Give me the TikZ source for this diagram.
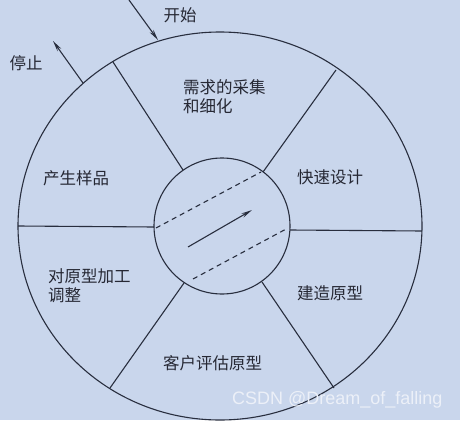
\documentclass[tikz,border=0pt]{standalone}
\usepackage{fontspec}
\setmainfont{Liberation Sans}
\newfontfamily\cjk{Noto Sans CJK SC}
\usetikzlibrary{arrows.meta}
\definecolor{bg}{RGB}{201,214,236}
\definecolor{ink}{RGB}{40,46,62}
\definecolor{txt}{RGB}{38,40,52}
\definecolor{wmc}{RGB}{236,240,248}
\begin{document}
\begin{tikzpicture}[x=1pt,y=-1pt,
  ln/.style={draw=ink,line width=1.1pt},
  lbl/.style={text=txt,font=\cjk\fontsize{16.5}{19}\selectfont,inner sep=0pt,align=left},
  arr/.style={ln,-{Stealth[length=11pt,width=4.5pt]}},
  wm/.style={text=wmc,font=\fontsize{18}{20}\selectfont,inner sep=0pt}]
\fill[bg] (0,0) rectangle (460,420);
\useasboundingbox (0,0) rectangle (460,420);
% centres
\coordinate (oc) at (220,226);
\coordinate (ic) at (222,226);
% outer ellipse and inner circle
\draw[ln] (oc) ellipse [x radius=202pt, y radius=194pt];
\draw[ln] (ic) circle [radius=68pt];
% junction points
\coordinate (iL) at (154,227);  \coordinate (oL) at (18,226);
\coordinate (iR) at (290,230);  \coordinate (oR) at (422,231);
\coordinate (iUL) at (183,170); \coordinate (oUL) at (113,62);
\coordinate (iUR) at (263,172); \coordinate (oUR) at (336,70);
\coordinate (iLL) at (184,283); \coordinate (oLL) at (110,388);
\coordinate (iLR) at (262,282); \coordinate (oLR) at (334,388);
\draw[ln] (iL) -- (oL);
\draw[ln] (iR) -- (oR);
\draw[ln] (iUL) -- (oUL);
\draw[ln] (iUR) -- (oUR);
\draw[ln] (iLL) -- (oLL);
\draw[ln] (iLR) -- (oLR);
% dashed lines and arrow in the hub
\coordinate (d1a) at (156,228); \coordinate (d1b) at (261,172);
\coordinate (d2a) at (193,279); \coordinate (d2b) at (288,228);
\draw[ln,dashed,dash pattern=on 5pt off 4pt] (d1a) -- (d1b);
\draw[ln,dashed,dash pattern=on 5pt off 4pt] (d2a) -- (d2b);
\coordinate (a1) at (188,247); \coordinate (a2) at (252,210);
\draw[arr] (a1) -- (a2);
% start / stop
\coordinate (s0) at (129,0);  \coordinate (s1) at (158,40);
\coordinate (t0) at (83,83);  \coordinate (t1) at (53,41);
\draw[arr] (s0) -- (s1);
\draw[arr] (t0) -- (t1);
% labels
\node[lbl] (start) at (180,15) {开始};
\node[lbl] (stop) at (26,63) {停止};
\node[lbl,anchor=west] (req) at (183,97) {需求的采集\\和细化};
\node[lbl,anchor=west] (design) at (297,177) {快速设计};
\node[lbl,anchor=west] (sample) at (43,178) {产生样品};
\node[lbl,anchor=west] (adjust) at (48,286) {对原型加工\\调整};
\node[lbl,anchor=west] (build) at (297,293) {建造原型};
\node[lbl,anchor=west] (eval) at (163,363) {客户评估原型};
% watermark
\node[wm,anchor=west] (wmk) at (232,400) {CSDN @Dream\_of\_falling};
\end{tikzpicture}
\end{document}
